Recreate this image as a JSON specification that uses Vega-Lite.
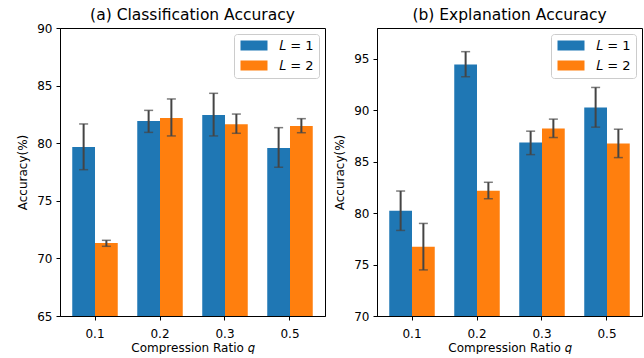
{
  "$schema": "https://vega.github.io/schema/vega-lite/v6.json",
  "padding": {"left": 16, "top": 7, "right": 0, "bottom": 0},
  "background": "white",
  "bounds": "flush",
  "spacing": 52,
  "datasets": {
    "cls": [
      {"q": "0.1", "L": "L1", "value": 79.67, "lo": 77.70, "hi": 81.67},
      {"q": "0.1", "L": "L2", "value": 71.33, "lo": 71.05, "hi": 71.57},
      {"q": "0.2", "L": "L1", "value": 81.93, "lo": 80.94, "hi": 82.85},
      {"q": "0.2", "L": "L2", "value": 82.19, "lo": 80.63, "hi": 83.84},
      {"q": "0.3", "L": "L1", "value": 82.45, "lo": 80.63, "hi": 84.33},
      {"q": "0.3", "L": "L2", "value": 81.64, "lo": 80.86, "hi": 82.53},
      {"q": "0.5", "L": "L1", "value": 79.58, "lo": 77.91, "hi": 81.35},
      {"q": "0.5", "L": "L2", "value": 81.49, "lo": 80.91, "hi": 82.13}
    ],
    "exp": [
      {"q": "0.1", "L": "L1", "value": 80.23, "lo": 78.32, "hi": 82.15},
      {"q": "0.1", "L": "L2", "value": 76.73, "lo": 74.48, "hi": 79.00},
      {"q": "0.2", "L": "L1", "value": 94.46, "lo": 93.26, "hi": 95.70},
      {"q": "0.2", "L": "L2", "value": 82.18, "lo": 81.40, "hi": 83.00},
      {"q": "0.3", "L": "L1", "value": 86.86, "lo": 85.69, "hi": 87.97},
      {"q": "0.3", "L": "L2", "value": 88.23, "lo": 87.35, "hi": 89.14},
      {"q": "0.5", "L": "L1", "value": 90.27, "lo": 88.36, "hi": 92.22},
      {"q": "0.5", "L": "L2", "value": 86.76, "lo": 85.40, "hi": 88.16}
    ]
  },
  "hconcat": [
    {
      "width": 265,
      "height": 288,
      "title": {"text": "(a) Classification Accuracy", "offset": -1},
      "data": {"name": "cls"},
      "encoding": {
        "x": {"field": "q", "type": "nominal", "sort": ["0.1", "0.2", "0.3", "0.5"],
              "scale": {"paddingInner": 0.3, "paddingOuter": 0.1885},
              "axis": {"title": "Compression Ratio 𝑞", "labelAngle": 0}},
        "xOffset": {"field": "L", "type": "nominal", "scale": {"paddingInner": 0, "paddingOuter": 0}}
      },
      "layer": [
        {
          "mark": {"type": "bar", "clip": true},
          "encoding": {
            "y": {"field": "value", "type": "quantitative", "scale": {"domain": [65, 90], "zero": false, "nice": false},
                  "axis": {"title": "Accuracy(%)", "values": [65, 70, 75, 80, 85, 90]}},
            "color": {"field": "L", "type": "nominal",
                      "scale": {"domain": ["L1", "L2"], "range": ["#1f77b4", "#ff7f0e"]},
                      "legend": {"orient": "top-right", "labelExpr": "datum.value == 'L1' ? '𝐿 = 1' : '𝐿 = 2'"}}
          }
        },
        {
          "mark": {"type": "rule", "color": "#444444", "strokeWidth": 2},
          "encoding": {"y": {"field": "lo", "type": "quantitative"}, "y2": {"field": "hi"}}
        },
        {
          "mark": {"type": "tick", "color": "#444444", "thickness": 1.5, "size": 9},
          "encoding": {"y": {"field": "lo", "type": "quantitative"}}
        },
        {
          "mark": {"type": "tick", "color": "#444444", "thickness": 1.5, "size": 9},
          "encoding": {"y": {"field": "hi", "type": "quantitative"}}
        }
      ]
    },
    {
      "width": 265,
      "height": 288,
      "title": {"text": "(b) Explanation Accuracy", "offset": 5},
      "data": {"name": "exp"},
      "encoding": {
        "x": {"field": "q", "type": "nominal", "sort": ["0.1", "0.2", "0.3", "0.5"],
              "scale": {"paddingInner": 0.3, "paddingOuter": 0.1885},
              "axis": {"title": "Compression Ratio 𝑞", "labelAngle": 0}},
        "xOffset": {"field": "L", "type": "nominal", "scale": {"paddingInner": 0, "paddingOuter": 0}}
      },
      "layer": [
        {
          "mark": {"type": "bar", "clip": true},
          "encoding": {
            "y": {"field": "value", "type": "quantitative", "scale": {"domain": [70, 98], "zero": false, "nice": false},
                  "axis": {"title": "Accuracy(%)", "values": [70, 75, 80, 85, 90, 95]}},
            "color": {"field": "L", "type": "nominal",
                      "scale": {"domain": ["L1", "L2"], "range": ["#1f77b4", "#ff7f0e"]},
                      "legend": {"orient": "top-right", "labelExpr": "datum.value == 'L1' ? '𝐿 = 1' : '𝐿 = 2'"}}
          }
        },
        {
          "mark": {"type": "rule", "color": "#444444", "strokeWidth": 2},
          "encoding": {"y": {"field": "lo", "type": "quantitative"}, "y2": {"field": "hi"}}
        },
        {
          "mark": {"type": "tick", "color": "#444444", "thickness": 1.5, "size": 9},
          "encoding": {"y": {"field": "lo", "type": "quantitative"}}
        },
        {
          "mark": {"type": "tick", "color": "#444444", "thickness": 1.5, "size": 9},
          "encoding": {"y": {"field": "hi", "type": "quantitative"}}
        }
      ]
    }
  ],
  "resolve": {"scale": {"color": "independent"}, "legend": {"color": "independent"}},
  "config": {
    "font": "DejaVu Sans",
    "view": {"stroke": "black", "strokeWidth": 1},
    "title": {"fontSize": 15.5, "fontWeight": "normal", "color": "black", "font": "DejaVu Sans"},
    "axis": {
      "grid": false, "domainColor": "black", "tickColor": "black", "tickSize": 4,
      "labelFontSize": 12, "titleFontSize": 12, "labelColor": "black", "titleColor": "black",
      "titleFontWeight": "normal", "labelFont": "DejaVu Sans", "titleFont": "DejaVu Sans"
    },
    "axisX": {"labelPadding": 8, "titlePadding": 3},
    "axisY": {"labelPadding": 4, "titlePadding": 7},
    "legend": {
      "title": null, "labelFontSize": 13, "labelFont": "DejaVu Sans", "labelColor": "black",
      "symbolType": "M-1,-1H4.4V1H-1Z", "symbolSize": 100, "symbolStrokeWidth": 0, "symbolOpacity": 1,
      "strokeColor": "#cccccc", "fillColor": "white", "cornerRadius": 3, "padding": 5,
      "offset": 6, "rowPadding": 6, "labelOffset": 27
    }
  }
}
